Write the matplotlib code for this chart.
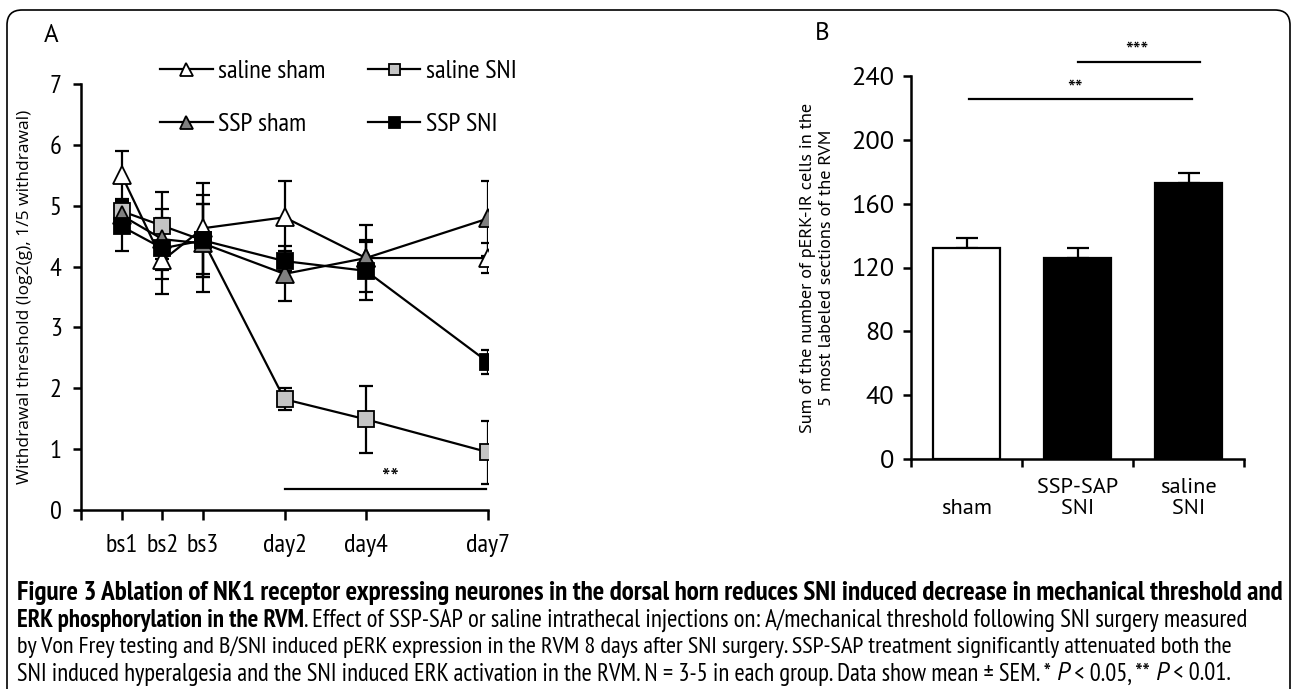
import matplotlib
matplotlib.use('Agg')
import matplotlib.pyplot as plt
from matplotlib import font_manager
from matplotlib.patches import FancyBboxPatch
import numpy as np

# ---- datos panel A (umbral de retirada)
x_pos = [1, 2, 3, 5, 7, 10]
x_labels = ['bs1', 'bs2', 'bs3', 'day2', 'day4', 'day7']
saline_sham = [5.5, 4.1, 4.63, 4.81, 4.14, 4.14]
saline_sham_err = [0.4, 0.55, 0.75, 0.6, 0.55, 0.25]
saline_sni = [4.91, 4.67, 4.43, 1.82, 1.49, 0.95]
saline_sni_err = [0.2, 0.55, 0.6, 0.18, 0.55, 0.52]
ssp_sham = [4.84, 4.45, 4.38, 3.88, 4.14, 4.79]
ssp_sham_err = [0.25, 0.5, 0.8, 0.45, 0.3, 0.62]
ssp_sni = [4.66, 4.3, 4.43, 4.09, 3.93, 2.43]
ssp_sni_err = [0.4, 0.5, 0.6, 0.16, 0.48, 0.2]

# ---- datos panel B (pERK)
b_labels = ['\nsham', 'SSP-SAP\nSNI', 'saline\nSNI']
b_values = [132, 126, 173]
b_err = [6.5, 6, 6]
b_colors = ['white', 'black', 'black']

names = {f.name for f in font_manager.fontManager.ttflist}


def pick(cands):
    for c in cands:
        if c in names:
            return c
    return 'DejaVu Sans'


narrow = pick(['PT Sans Narrow', 'Open Sans Condensed', 'Roboto Condensed', 'Fira Sans Condensed',
               'Archivo Narrow', 'Liberation Sans Narrow'])
myriad = pick(['PT Sans', 'Source Sans Pro', 'Open Sans'])
plt.rcParams['font.family'] = [pick(['Open Sans', 'DejaVu Sans']), 'DejaVu Sans']

W, H = 1293, 689
fig = plt.figure(figsize=(W / 100, H / 100), dpi=100)

# marco redondeado
frame = FancyBboxPatch((0.07, -0.5), 12.83, 6.79 + 0.5, boxstyle='round,pad=0,rounding_size=0.15',
                       transform=fig.dpi_scale_trans, fill=False, lw=1.2, ec='black')
fig.patches.append(frame)

# ---- Panel A
axA = fig.add_axes([81 / W, 1 - 510 / H, (488 - 81) / W, (510 - 84) / H])
series = [
    ('saline sham', saline_sham, saline_sham_err, '^', 'white', 13),
    ('saline SNI', saline_sni, saline_sni_err, 's', '#c4c4c4', 11),
    ('SSP sham', ssp_sham, ssp_sham_err, '^', '#808080', 13),
    ('SSP SNI', ssp_sni, ssp_sni_err, 's', 'black', 11),
]
handles = {}
for name, vals, err, mk, col, ms in series:
    axA.errorbar(x_pos, vals, yerr=err, fmt='none', ecolor='black', elinewidth=1.6,
                 capsize=5, capthick=1.6, zorder=2)
for name, vals, err, mk, col, ms in series:
    ln, = axA.plot(x_pos, vals, color='black', lw=1.6, marker=mk, ms=ms, mfc=col,
                   mec='black', mew=1.3, label=name, zorder=3)
    handles[name] = ln

axA.set_xlim(0, 10)
axA.set_ylim(0, 7)
axA.set_xticks([0] + x_pos)
axA.set_xticklabels([''] + x_labels, fontsize=19, family=narrow)
axA.set_yticks(range(8))
axA.set_yticklabels([str(i) for i in range(8)], fontsize=19, family=narrow)
axA.tick_params(axis='x', length=7, width=1.8, pad=10)
axA.tick_params(axis='y', length=6, width=1.8, pad=8)
for s in ['top', 'right']:
    axA.spines[s].set_visible(False)
for s in ['left', 'bottom']:
    axA.spines[s].set_linewidth(1.8)
axA.set_ylabel('Withdrawal threshold (log2(g), 1/5 withdrawal)', fontsize=12.5, labelpad=12)
axA.plot([5, 9.95], [0.34, 0.34], color='black', lw=1.6, clip_on=False)
axA.text(7.6, 0.33, '**', ha='center', va='bottom', fontsize=17, family=myriad)
order = ['saline sham', 'SSP sham', 'saline SNI', 'SSP SNI']
leg = axA.legend([handles[k] for k in order], order, ncol=2, loc='upper left',
                 bbox_to_anchor=(160 / W, 1 - 60 / H), bbox_transform=fig.transFigure,
                 frameon=False, prop={'family': narrow, 'size': 19}, markerscale=0.72,
                 handlelength=2.0, handletextpad=0.2, columnspacing=1.6, labelspacing=1.1,
                 borderpad=0, borderaxespad=0)
fig.text(44 / W, 1 - 35 / H, 'A', fontsize=18, ha='left', va='center', family=myriad)

# ---- Panel B
axB = fig.add_axes([911 / W, 1 - 459 / H, (1244 - 911) / W, (459 - 76) / H])
xb = np.arange(len(b_values))
axB.bar(xb, b_values, width=0.61, color=b_colors, edgecolor='black', lw=1.6, zorder=2)
axB.errorbar(xb, b_values, yerr=[np.zeros(3), b_err], fmt='none', ecolor='black',
             elinewidth=1.6, capsize=8, capthick=1.6, zorder=1)
axB.set_xlim(-0.5, 2.5)
axB.set_ylim(0, 240)
axB.set_yticks(range(0, 241, 40))
axB.set_yticklabels([str(v) for v in range(0, 241, 40)], fontsize=19, family=myriad)
axB.tick_params(axis='y', length=6, width=1.8, pad=6)
axB.set_xticks(xb)
axB.set_xticklabels(b_labels, fontsize=16, family=myriad, linespacing=1.1)
axB.set_xticks([-0.5, 0.5, 1.5, 2.5], minor=True)
axB.tick_params(axis='x', which='major', length=0, pad=14)
axB.tick_params(axis='x', which='minor', length=6, width=1.8)
for s in ['top', 'right']:
    axB.spines[s].set_visible(False)
for s in ['left', 'bottom']:
    axB.spines[s].set_linewidth(1.8)
axB.set_ylabel('Sum of the number of pERK-IR cells in the\n5 most labeled sections of the RVM',
               fontsize=13.2, labelpad=12, linespacing=1.2, family=myriad)
axB.plot([0.02, 2.03], [225.6, 225.6], color='black', lw=1.6, clip_on=False)
axB.text(0.98, 226, '**', ha='center', va='bottom', fontsize=16, family=myriad)
axB.plot([1.0, 2.1], [249, 249], color='black', lw=1.6, clip_on=False)
axB.text(1.53, 250, '***', ha='center', va='bottom', fontsize=16, family=myriad)
fig.text(815 / W, 1 - 33 / H, 'B', fontsize=18, ha='left', va='center', family=myriad)

# ---- Pie de figura
caption = [
    [('Figure 3 Ablation of NK1 receptor expressing neurones in the dorsal horn reduces SNI induced decrease in mechanical threshold and', 'bold', 'normal')],
    [('ERK phosphorylation in the RVM', 'bold', 'normal'),
     ('. Effect of SSP-SAP or saline intrathecal injections on: A/mechanical threshold following SNI surgery measured', 'normal', 'normal')],
    [('by Von Frey testing and B/SNI induced pERK expression in the RVM 8 days after SNI surgery. SSP-SAP treatment significantly attenuated both the', 'normal', 'normal')],
    [('SNI induced hyperalgesia and the SNI induced ERK activation in the RVM. N = 3-5 in each group. Data show mean \u00b1 SEM. * ', 'normal', 'normal'),
     ('P', 'normal', 'italic'), (' < 0.05, ** ', 'normal', 'normal'),
     ('P', 'normal', 'italic'), (' < 0.01.', 'normal', 'normal')],
]
line_y = [593, 620, 647, 674]
line_w = [1266, 1228, 1223, 1215]
fig.canvas.draw()
renderer = fig.canvas.get_renderer()
for segs, yy, target in zip(caption, line_y, line_w):
    size = 15.0
    for attempt in range(4):
        x = 17.0
        arts = []
        for txt, wt, st in segs:
            fam = myriad if st == 'italic' else narrow
            t = fig.text(x / W, 1 - yy / H, txt, fontsize=size, fontweight=wt, fontstyle=st,
                         family=fam, va='center', ha='left')
            bb = t.get_window_extent(renderer)
            x += bb.width
            arts.append(t)
        if attempt < 3:
            total = x - 17.0
            for a in arts:
                a.remove()
            size = min(size * target / total, 21)

fig.savefig('out.png', dpi=100)
